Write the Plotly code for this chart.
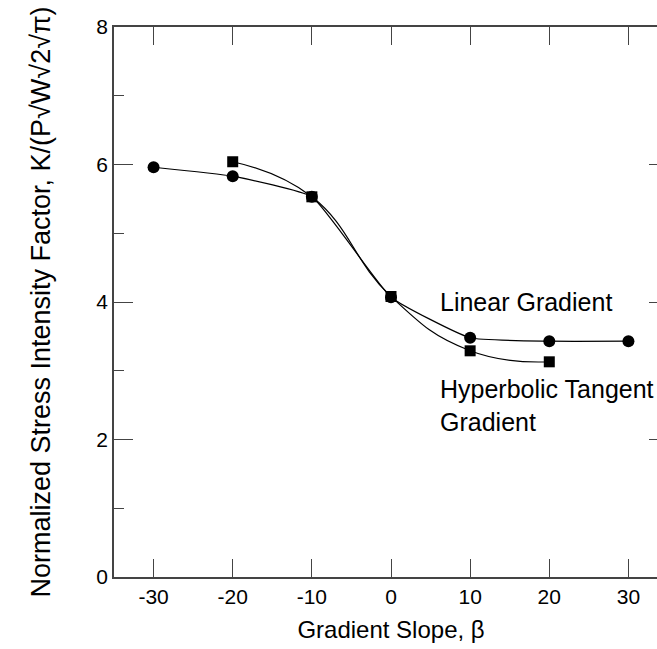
import plotly.graph_objects as go

# Data
beta_linear = [-30, -20, -10, 0, 10, 20, 30]
k_linear = [5.96, 5.83, 5.53, 4.07, 3.48, 3.43, 3.43]

beta_tanh = [-20, -10, 0, 10, 20]
k_tanh = [6.04, 5.53, 4.08, 3.29, 3.13]

x_ticks = [-30, -20, -10, 0, 10, 20, 30]
y_ticks = [0, 2, 4, 6, 8]

FONT = "Liberation Sans, Arial, sans-serif"
AX = "#444444"

fig = go.Figure()
fig.add_trace(go.Scatter(
    x=beta_linear, y=k_linear, mode="lines+markers",
    line=dict(color="black", width=1.2, shape="spline", smoothing=0.4),
    marker=dict(symbol="circle", size=12, color="black"),
    showlegend=False))
fig.add_trace(go.Scatter(
    x=beta_tanh, y=k_tanh, mode="lines+markers",
    line=dict(color="black", width=1.2, shape="spline", smoothing=1.3),
    marker=dict(symbol="square", size=11, color="black"),
    showlegend=False))

fig.add_annotation(x=6.0, y=4.0, text="Linear Gradient", showarrow=False,
                   xanchor="left", yanchor="middle",
                   font=dict(family=FONT, size=25, color="black"))
fig.add_annotation(x=6.0, y=2.49, text="Hyperbolic Tangent<br>Gradient", showarrow=False,
                   xanchor="left", yanchor="middle", align="left",
                   font=dict(family=FONT, size=25, color="black"))

fig.update_layout(
    width=668, height=649,
    margin=dict(l=114, r=0, t=27, b=72),
    paper_bgcolor="white", plot_bgcolor="white",
    font=dict(family=FONT, color="black"),
    xaxis=dict(
        range=[-35, 35], tickvals=x_ticks, ticktext=[str(v) for v in x_ticks],
        ticks="inside", ticklen=18, tickwidth=1.3, tickcolor=AX,
        showline=True, linecolor=AX, linewidth=1.5, mirror="allticks",
        showgrid=False, zeroline=False, automargin=False,
        tickfont=dict(family=FONT, size=21, color="black"),
        title=dict(text="Gradient Slope, β", font=dict(family=FONT, size=24, color="black"), standoff=14),
    ),
    yaxis=dict(
        range=[0, 8], tickvals=y_ticks, ticktext=[str(v) for v in y_ticks],
        ticks="inside", ticklen=19, tickwidth=1.3, tickcolor=AX,
        minor=dict(ticks="inside", ticklen=10, tickwidth=1.3, tickcolor=AX, dtick=1, tick0=0),
        showline=True, linecolor=AX, linewidth=1.5, mirror="allticks",
        showgrid=False, zeroline=False, automargin=False,
        tickfont=dict(family=FONT, size=21, color="black"),
        title=dict(text="Normalized Stress Intensity Factor, K/(P√W√2√π)",
                   font=dict(family=FONT, size=27, color="black"), standoff=38),
    ),
)

fig.write_html(
    "out.html",
    config={"displayModeBar": False},
    post_script="document.body.style.margin='0';document.body.style.overflow='hidden';",
)
